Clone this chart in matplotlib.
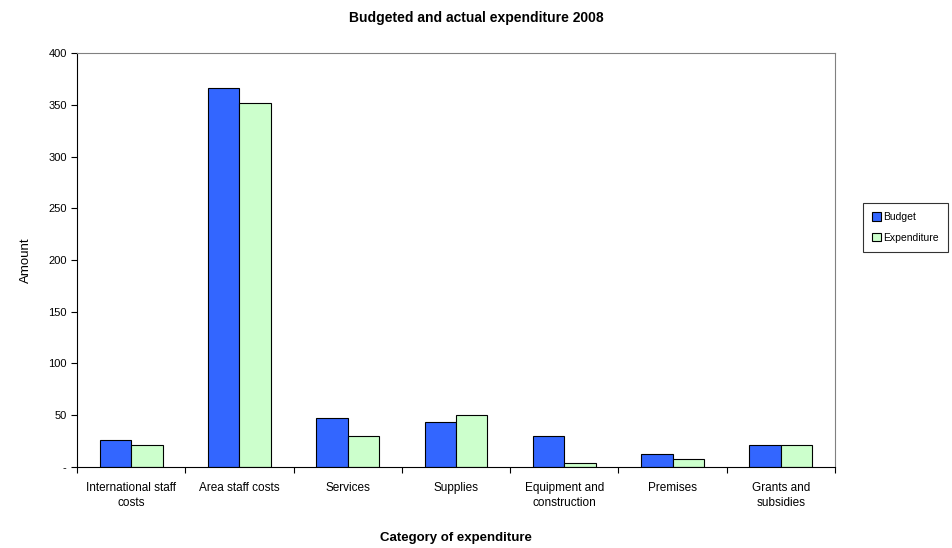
import matplotlib.pyplot as plt
import numpy as np
from matplotlib.ticker import FixedLocator, FuncFormatter

plt.rcParams['font.family'] = ['Liberation Sans', 'DejaVu Sans']

# data
categories = ["International staff\ncosts", "Area staff costs", "Services", "Supplies",
              "Equipment and\nconstruction", "Premises", "Grants and\nsubsidies"]
budget = [26, 366, 47, 43, 30, 12, 21]
expenditure = [21, 352, 30, 50, 4, 8, 21]

fig = plt.figure(figsize=(9.52, 5.48), dpi=100)
ax = fig.add_axes([0.081, 0.148, 0.796, 0.755])

x = np.arange(len(categories))
w = 0.29
b1 = ax.bar(x - w/2, budget, w, color='#3366FF', edgecolor='black', linewidth=0.8, label='Budget')
b2 = ax.bar(x + w/2, expenditure, w, color='#CCFFCC', edgecolor='black', linewidth=0.8, label='Expenditure')

ax.set_xlim(-0.5, len(categories) - 0.5)
ax.set_ylim(0, 400)
ax.set_yticks(range(0, 401, 50))
ax.yaxis.set_major_formatter(FuncFormatter(lambda v, p: '-' if v == 0 else '%d' % v))

# category labels between ticks
ax.set_xticks(x)
ax.set_xticklabels(categories, fontsize=8.5, linespacing=1.3)
ax.tick_params(axis='x', length=0, pad=11)
ax.xaxis.set_minor_locator(FixedLocator(np.arange(-0.5, len(categories), 1)))
ax.tick_params(axis='x', which='minor', length=4, direction='out', width=0.8)
ax.tick_params(axis='y', labelsize=8, length=4, width=0.8, direction='out')

for s in ['top', 'right']:
    ax.spines[s].set_color('#808080')
    ax.spines[s].set_linewidth(0.8)
for s in ['left', 'bottom']:
    ax.spines[s].set_color('black')
    ax.spines[s].set_linewidth(0.8)

ax.set_ylabel('Amount', fontsize=9.5, labelpad=12)
ax.set_xlabel('Category of expenditure', fontsize=9.5, fontweight='bold', labelpad=17)
fig.suptitle('Budgeted and actual expenditure 2008', fontsize=10, fontweight='bold', x=0.5, y=0.98)

leg = fig.legend(handles=[b1, b2], loc='upper left', bbox_to_anchor=(0.906, 0.63),
                 fontsize=7.5, frameon=True, fancybox=False, edgecolor='black',
                 handlelength=0.9, handleheight=0.9, handletextpad=0.15,
                 borderpad=0.9, labelspacing=1.0, borderaxespad=0)
leg.get_frame().set_linewidth(0.8)

fig.savefig('out.png', dpi=100)
